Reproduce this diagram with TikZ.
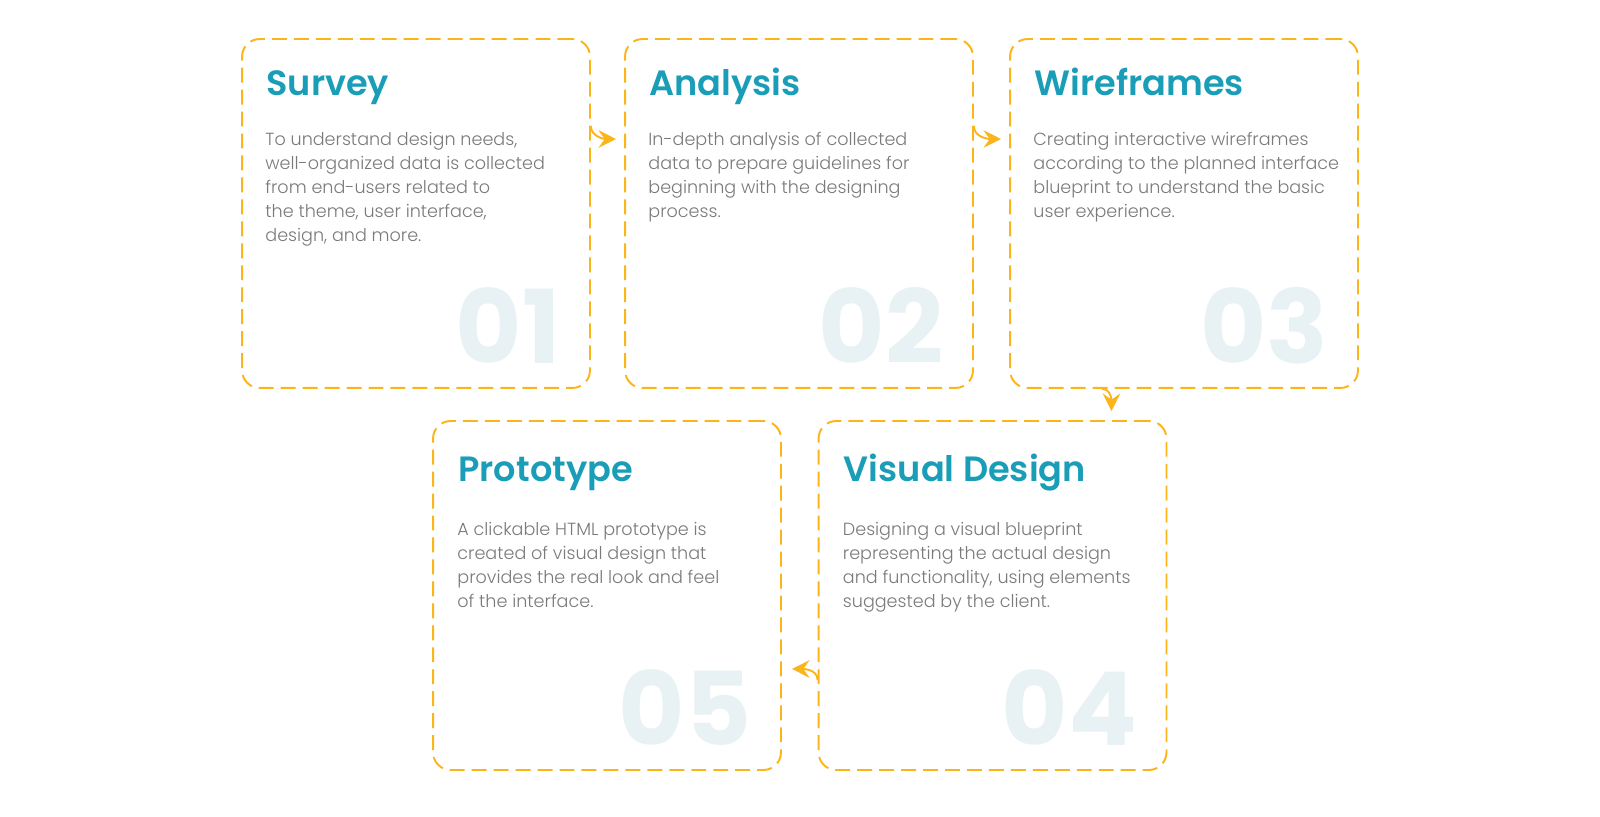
\documentclass[tikz,border=0pt]{standalone}
\usepackage{fontspec}
\setmainfont{Poppins}
\newfontfamily\headfont{Poppins SemiBold}
\newfontfamily\bodyfont{Poppins Light}
\newfontfamily\numfont{Poppins Bold}
\usetikzlibrary{arrows.meta}
\usetikzlibrary{positioning}
\usetikzlibrary{calc}
\definecolor{dashorange}{HTML}{FBB51B}
\definecolor{headteal}{HTML}{1A9DB7}
\definecolor{bodygrey}{HTML}{7A7A7A}
\definecolor{numgrey}{HTML}{E8F2F4}
\tikzset{
  stepbox/.style={draw=dashorange,line width=1.1pt,dash pattern=on 8.5pt off 4pt,
    rounded corners=10pt,minimum width=6.96cm,minimum height=6.98cm,inner sep=0pt},
  steptitle/.style={anchor=base west,inner sep=0pt,text=headteal,
    font=\headfont\fontsize{20}{24}\selectfont},
  stepbody/.style={anchor=north west,inner sep=0pt,align=left,text=bodygrey,
    font=\bodyfont\fontsize{10}{13.6}\selectfont},
  stepnum/.style={anchor=base east,inner sep=0pt,text=numgrey,
    font=\numfont\fontsize{58}{58}\selectfont},
  flow/.style={draw=dashorange,line width=1.1pt,-{Stealth[length=10pt,width=10pt,inset=3.5pt]}}
}
\begin{document}
\begin{tikzpicture}[x=0.02cm,y=-0.02cm]
\useasboundingbox (0,0) rectangle (1600,817);
% boxes
\node[stepbox] (survey) at (416,213.5) {};
\node[stepbox] (analysis) at (799,213.5) {};
\node[stepbox] (wireframes) at (1184,213.5) {};
\node[stepbox] (visual) at (992.5,595.5) {};
\node[stepbox] (prototype) at (607,595.5) {};
% big numbers
\node[stepnum] (n1) at ([xshift=-0.6cm,yshift=0.5cm]survey.south east) {01};
\node[stepnum] (n2) at ([xshift=-0.6cm,yshift=0.5cm]analysis.south east) {02};
\node[stepnum] (n3) at ([xshift=-0.6cm,yshift=0.5cm]wireframes.south east) {03};
\node[stepnum] (n4) at ([xshift=-0.6cm,yshift=0.5cm]visual.south east) {04};
\node[stepnum] (n5) at ([xshift=-0.6cm,yshift=0.5cm]prototype.south east) {05};
% titles
\node[steptitle] (h1) at ([xshift=0.5cm,yshift=-1.14cm]survey.north west) {Survey};
\node[steptitle] (h2) at ([xshift=0.5cm,yshift=-1.14cm]analysis.north west) {Analysis};
\node[steptitle] (h3) at ([xshift=0.5cm,yshift=-1.14cm]wireframes.north west) {Wireframes};
\node[steptitle] (h4) at ([xshift=0.52cm,yshift=-1.22cm]visual.north west) {Visual Design};
\node[steptitle] (h5) at ([xshift=0.52cm,yshift=-1.22cm]prototype.north west) {Prototype};
% texts
\node[stepbody] (t1) at ([xshift=0.48cm,yshift=-1.88cm]survey.north west)
  {To understand design needs,\\well-organized data is collected\\from end-users related to\\the theme, user interface,\\design, and more.};
\node[stepbody] (t2) at ([xshift=0.48cm,yshift=-1.88cm]analysis.north west)
  {In-depth analysis of collected\\data to prepare guidelines for\\beginning with the designing\\process.};
\node[stepbody] (t3) at ([xshift=0.48cm,yshift=-1.88cm]wireframes.north west)
  {Creating interactive wireframes\\according to the planned interface\\blueprint to understand the basic\\user experience.};
\node[stepbody] (t4) at ([xshift=0.5cm,yshift=-2.04cm]visual.north west)
  {Designing a visual blueprint\\representing the actual design\\and functionality, using elements\\suggested by the client.};
\node[stepbody] (t5) at ([xshift=0.5cm,yshift=-2.04cm]prototype.north west)
  {A clickable HTML prototype is\\created of visual design that\\provides the real look and feel\\of the interface.};
% connectors
\coordinate (e12) at ([xshift=-0.16cm,yshift=-2.02cm]analysis.north west);
\coordinate (e23) at ([xshift=-0.16cm,yshift=-2.02cm]wireframes.north west);
\coordinate (e34) at ([xshift=5.88cm,yshift=0.18cm]visual.north west);
\coordinate (e45) at ([xshift=0.2cm,yshift=2.04cm]prototype.south east);
\draw[flow] ([yshift=-1.76cm]survey.north east) to[out=-90,in=180] (e12);
\draw[flow] ([yshift=-1.76cm]analysis.north east) to[out=-90,in=180] (e23);
\draw[flow] ([xshift=1.86cm]wireframes.south west) to[out=0,in=90] (e34);
\draw[flow] ([yshift=1.82cm]visual.south west) to[out=90,in=0] (e45);
\end{tikzpicture}
\end{document}
